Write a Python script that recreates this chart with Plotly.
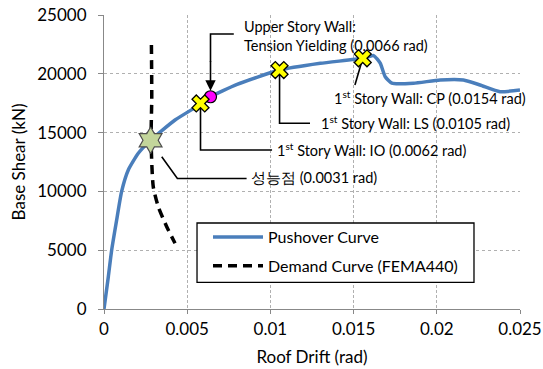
import plotly.graph_objects as go

# Pushover curve (roof drift rad, base shear kN)
push_drift = [0, 0.00026, 0.00046, 0.00076, 0.00106, 0.00146, 0.00206, 0.0028, 0.00427,
              0.0059, 0.0064, 0.0080, 0.0105, 0.0130, 0.01555, 0.0162, 0.0166, 0.0169,
              0.0173, 0.0186, 0.0202, 0.0216, 0.0226, 0.0238, 0.0250]
push_shear = [0, 2750, 5000, 7570, 10000, 11820, 13240, 14350, 16070,
              17500, 18050, 19100, 20300, 20890, 21320, 21550, 20900, 19750,
              19200, 19200, 19470, 19470, 19050, 18480, 18620]

# Demand curve (FEMA440)
dem_drift = [0.00285, 0.00287, 0.00283, 0.00296, 0.00326, 0.00377, 0.00427]
dem_shear = [22450, 18000, 14350, 10400, 8700, 7000, 5590]

# Performance markers
perf_drift = [0.0028]; perf_shear = [14350]
io_drift = [0.0058]; io_shear = [17480]
upper_drift = [0.0064]; upper_shear = [18050]
ls_drift = [0.01055]; ls_shear = [20320]
cp_drift = [0.01555]; cp_shear = [21320]

x_ticks = [0, 0.005, 0.01, 0.015, 0.02, 0.025]
x_ticklabels = ["0", "0.005", "0.01", "0.015", "0.02", "0.025"]
y_ticks = [0, 5000, 10000, 15000, 20000, 25000]
y_ticklabels = ["0", "5000", "10000", "15000", "20000", "25000"]

FONT = "Lato"

fig = go.Figure()
fig.add_trace(go.Scatter(x=push_drift, y=push_shear, mode="lines", name="Pushover Curve",
                         line=dict(color="#4a7ebb", width=3.5, shape="spline", smoothing=0.5),
                         legendgroup="a"))
fig.add_trace(go.Scatter(x=dem_drift, y=dem_shear, mode="lines", name="Demand Curve (FEMA440)",
                         line=dict(color="black", width=3.5, dash="9px,6px", shape="spline",
                                   smoothing=0.6),
                         legendgroup="b"))

# leader lines (data coordinates)
def seg(xs, ys):
    fig.add_trace(go.Scatter(x=xs, y=ys, mode="lines", line=dict(color="black", width=1.6),
                             showlegend=False, hoverinfo="skip"))

seg([io_drift[0], io_drift[0], 0.0101], [io_shear[0], 13520, 13520])
seg([ls_drift[0], ls_drift[0], 0.01238], [ls_shear[0], 15790, 15790])
seg([cp_drift[0], 0.01508], [cp_shear[0], 19050])
seg([0.00347, 0.00441, 0.00857], [12950, 11100, 11100])
seg([0.0078, upper_drift[0], upper_drift[0]], [23380, 23380, 21000])

fig.add_trace(go.Scatter(x=perf_drift, y=perf_shear, mode="markers", showlegend=False,
                         marker=dict(symbol="hexagram", size=20, color="#c3d69b",
                                     line=dict(color="#4d4d4d", width=1.2))))
fig.add_trace(go.Scatter(x=upper_drift, y=upper_shear, mode="markers", showlegend=False,
                         marker=dict(symbol="circle", size=12, color="#ff00ff",
                                     line=dict(color="black", width=1.2))))
fig.add_trace(go.Scatter(x=io_drift + ls_drift + cp_drift, y=io_shear + ls_shear + cp_shear,
                         mode="markers", showlegend=False,
                         marker=dict(symbol="x", size=15, color="#ffff00",
                                     line=dict(color="black", width=1.3))))

fig.add_annotation(x=upper_drift[0], y=upper_shear[0], ax=upper_drift[0], ay=21200,
                   xref="x", yref="y", axref="x", ayref="y", text="", showarrow=True,
                   arrowhead=2, arrowsize=1.3, arrowwidth=1.6, arrowcolor="black", standoff=6)

ann_font = dict(family=FONT, size=14.5, color="black")
def label(x, y, text):
    fig.add_annotation(x=x, y=y, xref="x", yref="y", text=text, showarrow=False,
                       xanchor="left", yanchor="middle", align="left", font=ann_font)

label(0.00830, 23250, "Upper Story Wall:<br>Tension Yielding (0.0066 rad)")
label(0.01028, 13550, "1<sup>st</sup> Story Wall: IO (0.0062 rad)")
label(0.01290, 15850, "1<sup>st</sup> Story Wall: LS (0.0105 rad)")
label(0.01370, 17950, "1<sup>st</sup> Story Wall: CP (0.0154 rad)")
label(0.00870, 11150, "성능점 (0.0031 rad)")

# legend frame
fig.add_shape(type="rect", xref="paper", yref="paper", x0=0.2236, x1=0.8894,
              y0=0.0908, y1=0.2925, fillcolor="white", line=dict(color="black", width=1.3),
              layer="above")

grid = "#b0b0b0"
fig.update_layout(
    width=543, height=369,
    margin=dict(l=104, r=23, t=15, b=60),
    paper_bgcolor="white", plot_bgcolor="white",
    font=dict(family=FONT, size=17, color="black"),
    showlegend=True,
    legend=dict(x=0.25, y=0.3027, xanchor="left", yanchor="top",
                borderwidth=0, bgcolor="rgba(0,0,0,0)",
                font=dict(family=FONT, size=16), tracegroupgap=5,
                traceorder="grouped", itemwidth=50),
    xaxis=dict(range=[0, 0.025], tickvals=x_ticks, ticktext=x_ticklabels,
               showgrid=True, gridcolor=grid, griddash="3px,2px", gridwidth=1,
               showline=True, linecolor="#888888", linewidth=1.2,
               ticks="outside", ticklen=4, tickcolor="#888888",
               ticklabeloverflow="allow",
               zeroline=False, automargin=False,
               title=dict(text="Roof Drift (rad)", font=dict(size=17), standoff=13)),
    yaxis=dict(range=[0, 25000], tickvals=y_ticks, ticktext=y_ticklabels,
               showgrid=True, gridcolor=grid, griddash="dot", gridwidth=1,
               showline=True, linecolor="#888888", linewidth=1.2,
               ticks="outside", ticklen=5, tickcolor="#888888", ticklabelstandoff=8,
               ticklabeloverflow="allow",
               zeroline=False, automargin=False,
               title=dict(text="Base Shear (kN)", font=dict(size=17), standoff=7)),
)

fig.write_html("out.html", config={"displayModeBar": False},
               post_script="document.body.style.margin='0';")
